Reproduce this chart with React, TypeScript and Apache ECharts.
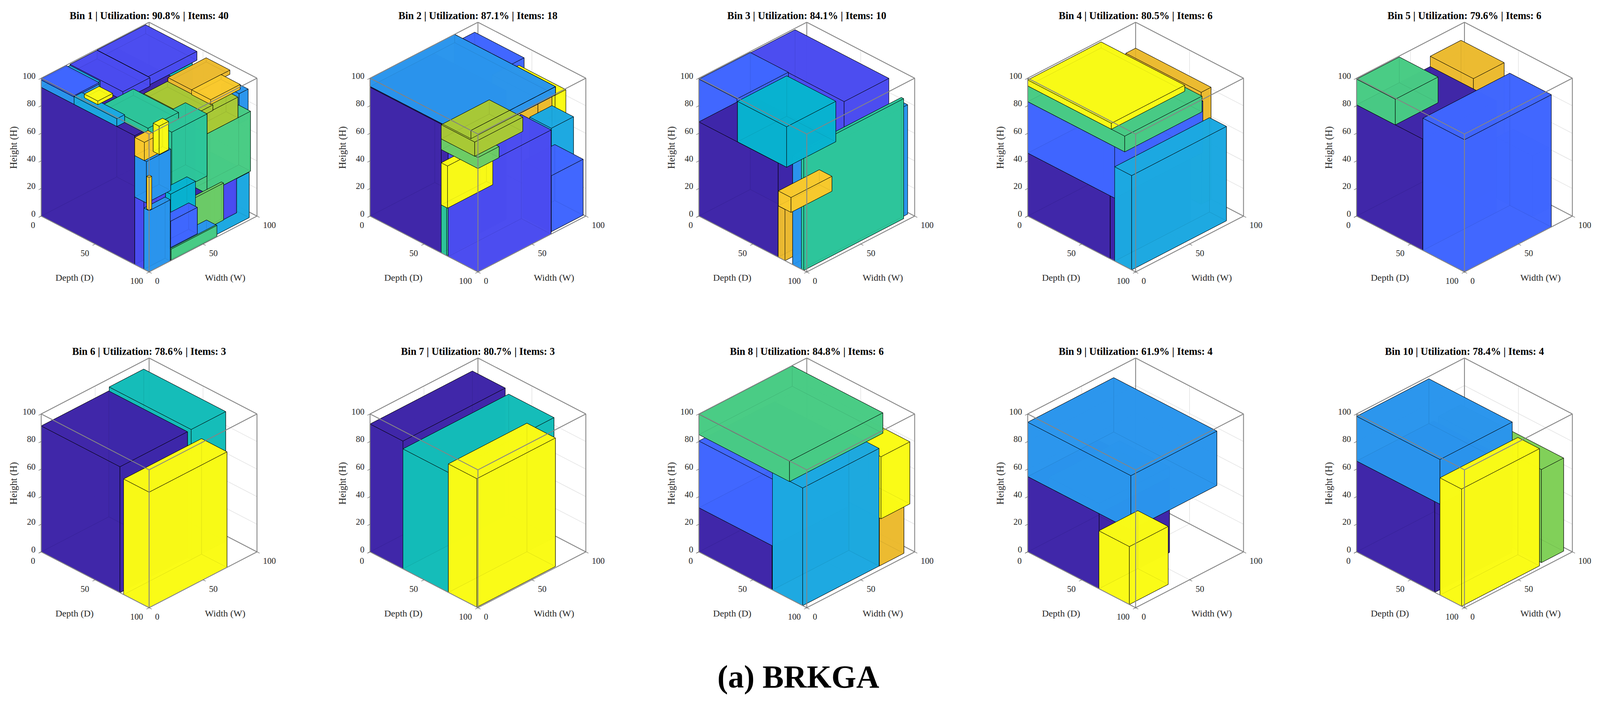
import React, { useEffect, useRef } from "react";
import * as echarts from "echarts";

const binTitles = [
  "Bin 1 | Utilization: 90.8% | Items: 40",
  "Bin 2 | Utilization: 87.1% | Items: 18",
  "Bin 3 | Utilization: 84.1% | Items: 10",
  "Bin 4 | Utilization: 80.5% | Items: 6",
  "Bin 5 | Utilization: 79.6% | Items: 6",
  "Bin 6 | Utilization: 78.6% | Items: 3",
  "Bin 7 | Utilization: 80.7% | Items: 3",
  "Bin 8 | Utilization: 84.8% | Items: 6",
  "Bin 9 | Utilization: 61.9% | Items: 4",
  "Bin 10 | Utilization: 78.4% | Items: 4",
];
const caption = "(a) BRKGA";
const heightTicks = [0, 20, 40, 60, 80, 100];
const depthTicks = [0, 50, 100];
const widthTicks = [0, 50, 100];

// parula-like colours by index; the last index means outline only
const palette = ["#3e26a8", "#4a4bef", "#3f66ff", "#2a95ec", "#1ca8e0", "#08b2cf", "#13bdb8", "#2ec59a", "#48cb84", "#6ccc66", "#a8c935", "#ebba30", "#f8c92c", "#f9fb15", "#80cf58"];
const OUTLINE = 15;

// each row: w0, d0, h0, sizeW, sizeD, sizeH, colour index (painted in this order)
const bin1 = [
  [63, 60, 0, 32, 37.8, 33, 4],
  [70.7, 97, 8.4, 12.4, 1, 25, 1],
  [88, 79, 70, 8.4, 16.4, 21.7, 3],
  [61, 35, 72, 37, 7, 16.5, 6],
  [0, 0, 0, 70, 86.7, 93.4, 0],
  [51.8, 0, 93, 45, 47.5, 6.4, 1],
  [26.7, 0, 93, 25.1, 49, 6.2, 1],
  [58.7, 84, 31, 40.3, 11, 43.4, 8],
  [58.7, 84, 74.4, 28.6, 11, 15, 10],
  [43.6, 51.6, 88, 21.9, 42, 4, 10],
  [60.5, 57, 96, 35.4, 22, 3, 11],
  [64.2, 75.2, 92.5, 27.3, 17.7, 3.5, 12],
  [26, 75, 43.8, 32.7, 20, 45, 7],
  [23.2, 33.9, 80.4, 28.3, 41.9, 4.6, 7],
  [20.9, 97.5, 9.3, 48.6, 2, 26.8, 9],
  [20.7, 90, 0, 42.5, 9.7, 8, 3],
  [20.7, 98.7, 0, 42.5, 1, 8, 8],
  [22, 90, 27, 23, 8, 19.7, 5],
  [22, 90, 8, 24.7, 8, 19.1, 2],
  [0, 86.7, 0, 20, 8.5, 49, 1],
  [0, 86.7, 49, 22.5, 10.8, 30, 3],
  [0, 86.7, 79, 12.3, 8.9, 13.2, 12],
  [12.3, 91.5, 79, 8.7, 5.5, 20.5, 13],
  [0, 95.2, 0, 19.6, 4.8, 44.4, 3],
  [0, 97.7, 44.8, 2.4, 2.3, 23.6, 12],
  [23.2, 0, 93.4, 3.5, 28, 5, 4],
  [0, 0, 93.4, 23.2, 30.5, 5.3, 3],
  [0, 0, 98.7, 23.2, 30.5, 1, 2],
  [0, 30.5, 93.4, 7.2, 39.6, 5.6, 4],
  [10.7, 29.3, 93.4, 13.7, 12.5, 2.6, 13],
];
const bin2 = [
  [78, 0, 60, 19, 45.8, 34, 2],
  [86, 42, 68, 10, 43.5, 19.4, 13],
  [68, 45, 75, 13, 42.6, 18, 11],
  [77.4, 70.6, 37.5, 20.6, 20, 31.5, 4],
  [70, 71.7, 0, 29.5, 26.3, 40.6, 2],
  [0, 0, 0, 60, 66, 93.4, 0],
  [0, 66, 0, 30, 5, 34.9, 7],
  [0, 72.4, 0, 67.8, 27.6, 75.5, 1],
  [0, 66, 34.9, 41.9, 5.8, 30.5, 13],
  [0, 66, 75, 19.6, 34, 8, 9],
  [0, 0, 94, 78.4, 93.5, 6, 3],
  [0, 66, 82.7, 44.5, 31, 10.3, 10],
  [0, 0, 94, 78.4, 93.5, 6, OUTLINE],
];
const bin3 = [
  [47.6, 0, 0, 41.5, 87, 99, 1],
  [0, 0, 68.3, 47.6, 35.3, 31, 2],
  [0, 0, 0, 47.6, 73.5, 68.3, 0],
  [0, 73.5, 0, 37, 6.3, 37.2, 11],
  [0, 86.9, 0, 98.5, 8.1, 79.3, 3],
  [0, 95, 0, 92.6, 2.2, 87, 7],
  [0, 35.8, 68.4, 45.6, 45.5, 29.3, 5],
  [0, 73.7, 37.3, 37.9, 11.7, 10.8, 12],
];
const bin4 = [
  [90.9, 0, 0, 9.1, 69.9, 81.2, 11],
  [0, 0, 0, 70, 76.5, 45.7, 0],
  [0, 76.5, 0, 70, 4.1, 45.7, 0],
  [0, 0, 45.7, 81.7, 80.6, 37.3, 2],
  [0, 0, 83, 71.6, 89.9, 11.4, 8],
  [0, 0, 94.4, 68, 77.5, 4.3, 13],
  [0, 80.6, 0, 87.9, 15.7, 68.4, 4],
];
const bin5 = [
  [68.3, 0, 0, 28.5, 40, 88.2, 11],
  [0, 0, 0, 68.3, 61.3, 80.7, 0],
  [0, 0, 80.7, 39.6, 35.9, 18.6, 8],
  [81, 49, 0, 15, 33, 44, 2],
  [0, 61.5, 0, 80.5, 38.5, 95.9, 2],
];
const bin6 = [
  [63, 0, 0, 32, 76, 94, 6],
  [0, 0, 0, 62.6, 73, 91.3, 0],
  [0, 76.4, 0, 72.2, 23.6, 83.8, 13],
];
const bin7 = [
  [0, 0, 0, 94.8, 30.5, 92.7, 0],
  [0, 30.5, 0, 98, 42, 87, 6],
  [0, 72.6, 0, 72.8, 26.4, 93.2, 13],
];
const bin8 = [
  [71, 60, 0, 22.7, 36.3, 35, 11],
  [70.8, 60, 35, 26.7, 38, 45, 13],
  [0, 0, 0, 70, 67.8, 32, 0],
  [0, 0, 32, 70, 68.2, 48.4, 2],
  [0, 68.2, 0, 70.8, 28, 85.3, 4],
  [0, 0, 85, 86.5, 84, 14.8, 8],
];
const bin9 = [
  [0, 0, 0, 65.2, 66.2, 54.6, 0],
  [0, 19.6, 54.6, 65.2, 46.6, 7.4, 3],
  [0, 0, 54.6, 79.7, 95.6, 39.4, 3],
  [0, 66, 0, 36, 28.2, 42, 13],
];
const bin10 = [
  [76, 0, 0, 20.6, 95.3, 67.5, 14],
  [0, 0, 0, 71.5, 72.5, 65.9, 0],
  [0, 0, 65.9, 67, 77.3, 32.4, 3],
  [0, 77.3, 0, 72.2, 20, 85, 13],
];
const bins = [bin1, bin2, bin3, bin4, bin5, bin6, bin7, bin8, bin9, bin10];

const W = 4271;
const H = 1798;
const SERIF = "'Liberation Serif', serif";
const PANEL_LEFT = 110;
const PANEL_PITCH = 877.8;
const CUBE_W = 576;
const CUBE_TOP = [57, 917];
const CUBE_H = 639.6;
const K = 0.4054; // vertical axis units per unit of (w - d)
const FILL_ALPHA = 0.9;

const project = (w: number, d: number, h: number) => [d + w, h + (w - d) * K];

// line rows: w0,d0,h0,w1,d1,h1,style (0 grid, 1 frame, 2 tick)
const gridRows: number[][] = [];
heightTicks.slice(1, -1).forEach((h) => {
  gridRows.push([0, 0, h, 100, 0, h, 0]);
  gridRows.push([100, 0, h, 100, 100, h, 0]);
});
gridRows.push([50, 0, 0, 50, 0, 100, 0]);
gridRows.push([100, 50, 0, 100, 50, 100, 0]);
gridRows.push([50, 0, 0, 50, 100, 0, 0]);
gridRows.push([0, 50, 0, 100, 50, 0, 0]);
const backRows = [
  ...gridRows,
  [100, 0, 0, 100, 0, 100, 1],
  [100, 0, 0, 100, 100, 0, 1],
  [100, 0, 0, 0, 0, 0, 1],
];
const frontRows: number[][] = [
  [0, 0, 100, 100, 0, 100, 1],
  [100, 0, 100, 100, 100, 100, 1],
  [0, 0, 100, 0, 100, 100, 1],
  [0, 100, 100, 100, 100, 100, 1],
  [0, 100, 0, 100, 100, 0, 1],
  [0, 0, 0, 0, 100, 0, 1],
  [0, 100, 0, 0, 100, 100, 1],
  [0, 0, 0, 0, 0, 100, 1],
  [100, 100, 0, 100, 100, 100, 1],
];
heightTicks.forEach((h) => frontRows.push([0, 0, h, -2.4, 0, h, 2]));
depthTicks.forEach((d) => frontRows.push([0, d, 0, -2.4, d, 0, 2]));
widthTicks.forEach((w) => frontRows.push([w, 100, 0, w, 102.4, 0, 2]));

const lineStyles = [
  { stroke: "#dddddd", lineWidth: 1.2 },
  { stroke: "#858585", lineWidth: 2.2 },
  { stroke: "#333333", lineWidth: 1 },
];

function renderLines(_: any, api: any) {
  const a = api.coord(project(api.value(0), api.value(1), api.value(2)));
  const b = api.coord(project(api.value(3), api.value(4), api.value(5)));
  return {
    type: "line",
    shape: { x1: a[0], y1: a[1], x2: b[0], y2: b[1] },
    style: { ...lineStyles[api.value(6)], fill: null },
  };
}

function renderBox(_: any, api: any) {
  const w0 = api.value(0);
  const d0 = api.value(1);
  const h0 = api.value(2);
  const w1 = w0 + api.value(3);
  const d1 = d0 + api.value(4);
  const h1 = h0 + api.value(5);
  const idx = api.value(6);
  const fill = idx === OUTLINE ? "none" : echarts.color.modifyAlpha(palette[idx], FILL_ALPHA);
  const p = (w: number, d: number, h: number) => api.coord(project(w, d, h));
  const faces = [
    [p(w0, d0, h0), p(w1, d0, h0), p(w1, d1, h0), p(w0, d1, h0)],
    [p(w1, d0, h0), p(w1, d1, h0), p(w1, d1, h1), p(w1, d0, h1)],
    [p(w0, d0, h0), p(w1, d0, h0), p(w1, d0, h1), p(w0, d0, h1)],
    [p(w0, d0, h0), p(w0, d1, h0), p(w0, d1, h1), p(w0, d0, h1)],
    [p(w0, d1, h0), p(w1, d1, h0), p(w1, d1, h1), p(w0, d1, h1)],
    [p(w0, d0, h1), p(w1, d0, h1), p(w1, d1, h1), p(w0, d1, h1)],
  ];
  const shown = idx === OUTLINE ? faces.slice(3) : faces;
  return {
    type: "group",
    children: shown.map((points) => ({
      type: "polygon",
      shape: { points },
      style: { fill, stroke: "#000000", lineWidth: 1, lineJoin: "round" },
    })),
  };
}

// tick labels: where each one sits on the cube, and its text
type Lab = { at: number[]; text: string; align: string; dx: number; dy: number };
const tickLabels: Lab[] = [
  ...heightTicks.map((h) => ({ at: [0, 0, h], text: String(h), align: "right", dx: -15, dy: -6 })),
  ...depthTicks.map((d) => ({ at: [0, d, 0], text: String(d), align: "right", dx: -16, dy: 23 })),
  ...widthTicks.map((w) => ({ at: [w, 100, 0], text: String(w), align: "left", dx: 16, dy: 23 })),
];

function buildOption(sx: number) {
  const renderLabel = (params: any, api: any) => {
    const lab = tickLabels[params.dataIndex];
    const c = api.coord(project(api.value(0), api.value(1), api.value(2)));
    return {
      type: "text",
      style: {
        x: c[0] + lab.dx * sx,
        y: c[1] + lab.dy,
        text: lab.text,
        align: lab.align,
        verticalAlign: "middle",
        fontFamily: SERIF,
        fontSize: 23 * sx,
        fill: "#262626",
      },
    };
  };
  const grid: any[] = [];
  const xAxis: any[] = [];
  const yAxis: any[] = [];
  const series: any[] = [];
  const graphic: any[] = [];
  bins.forEach((boxes, i) => {
    const col = i % 5;
    const row = Math.floor(i / 5);
    const left = (PANEL_LEFT + PANEL_PITCH * col) * sx;
    const top = CUBE_TOP[row];
    const base = top + 496; // pixel row of the origin corner
    grid.push({ left, top, width: CUBE_W * sx, height: CUBE_H, show: false });
    xAxis.push({ type: "value", gridIndex: i, min: 0, max: 200, show: false });
    yAxis.push({ type: "value", gridIndex: i, min: -40.54, max: 140.54, show: false });
    const common = { type: "custom", xAxisIndex: i, yAxisIndex: i, silent: true, clip: false, animation: false };
    series.push({ ...common, z: 1, renderItem: renderLines, data: backRows });
    series.push({ ...common, z: 2, renderItem: renderBox, data: boxes });
    series.push({ ...common, z: 3, renderItem: renderLines, data: frontRows });
    series.push({ ...common, z: 4, renderItem: renderLabel, data: tickLabels.map((l) => l.at) });
    const text = (s: string, x: number, y: number, extra: any, rotation = 0) =>
      graphic.push({
        type: "text",
        x,
        y,
        z: 100,
        rotation,
        silent: true,
        style: { text: s, align: "center", verticalAlign: "middle", fontFamily: SERIF, fill: "#262626", fontSize: 25 * sx, ...extra },
      });
    text(binTitles[i], left + 288 * sx, top - 17, { fontSize: 27.4 * sx, fontWeight: "bold", fill: "#000000" });
    text("Height (H)", left - 74 * sx, base - 175, { fontSize: 25 }, Math.PI / 2);
    text("Depth (D)", left + 89 * sx, base + 158, {});
    text("Width (W)", left + 491 * sx, base + 158, {});
  });
  graphic.push({
    type: "text",
    x: 2131 * sx,
    y: 1733,
    z: 100,
    silent: true,
    style: { text: caption, align: "center", verticalAlign: "middle", fontFamily: SERIF, fontSize: 85 * sx, fontWeight: "bold", fill: "#000000" },
  });
  return { animation: false, backgroundColor: "#ffffff", grid, xAxis, yAxis, series, graphic };
}

export default function App() {
  const ref = useRef<HTMLDivElement>(null);
  useEffect(() => {
    document.body.style.margin = "0";
    // the browser may open narrower than asked: the whole layout is fitted to the width it really has
    const sx = Math.min(1, window.innerWidth / W);
    ref.current!.style.width = `${W * sx}px`;
    const chart = echarts.init(ref.current!, undefined, { renderer: "svg" });
    chart.setOption(buildOption(sx) as any);
    return () => chart.dispose();
  }, []);
  return <div ref={ref} style={{ width: W, height: H, position: "absolute", left: 0, top: 0 }} />;
}
